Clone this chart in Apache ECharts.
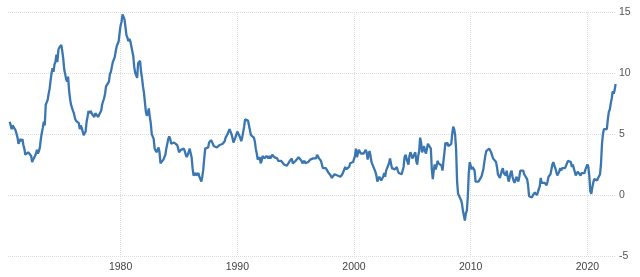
<!DOCTYPE html>
<html>
<head>
<meta charset="utf-8">
<script src="https://cdn.jsdelivr.net/npm/echarts@6/dist/echarts.min.js"></script>
<style>html,body{margin:0;padding:0;background:#fff;}#c{width:640px;height:277px;}</style>
</head>
<body>
<div id="c"></div>
<script>
// Monthly inflation rate (%), starting July 1970
const startYear = 1970;
const startMonth = 6; // 0-based (July)
const cpi1970s = [
  6.0, 6.0, 5.4, 5.7, 5.6, 5.6,
  5.3, 5.0, 4.7, 4.2, 4.4, 4.6, 4.4, 4.6, 4.1, 3.8, 3.3, 3.3,
  3.3, 3.5, 3.5, 3.5, 3.2, 2.7, 2.9, 2.9, 3.2, 3.4, 3.7, 3.4,
  3.6, 3.9, 4.6, 5.1, 5.5, 6.0, 5.7, 7.4, 7.4, 7.8, 8.3, 8.7,
  9.4, 10.0, 10.4, 10.1, 10.7, 10.9, 11.5, 10.9, 11.9, 12.1, 12.2, 12.3,
  11.8, 11.2, 10.3, 10.2, 9.5, 9.3, 9.7, 8.6, 7.9, 7.4, 7.4, 6.9,
  6.7, 6.3, 6.1, 6.0, 6.2, 5.9, 5.4, 5.7, 5.5, 5.5, 4.9, 4.9,
  5.2, 6.0, 6.4, 6.9, 6.7, 6.9, 6.8, 6.6, 6.6, 6.4, 6.7, 6.7,
  6.8, 6.4, 6.6, 6.5, 6.9, 7.4, 7.7, 7.9, 8.3, 8.9, 8.9, 9.0,
  9.3, 9.9, 10.1, 10.5, 10.9, 10.9, 11.3, 11.8, 12.2, 12.1, 12.6, 13.3
];
const cpi1980s = [
  13.9, 14.2, 14.8, 14.7, 14.4, 14.4, 13.1, 12.9, 12.6, 12.8, 12.6, 12.5,
  11.8, 11.4, 10.5, 10.0, 9.8, 9.6, 10.8, 10.8, 11.0, 10.1, 9.6, 8.9,
  8.4, 7.6, 6.8, 6.5, 6.7, 7.1, 6.4, 5.9, 5.0, 5.1, 4.6, 3.8,
  3.7, 3.5, 3.6, 3.9, 3.5, 2.6, 2.5, 2.6, 2.9, 2.9, 3.3, 3.8,
  4.2, 4.6, 4.8, 4.6, 4.2, 4.2, 4.2, 4.3, 4.3, 4.3, 4.1, 3.9,
  3.5, 3.5, 3.7, 3.7, 3.8, 3.8, 3.6, 3.3, 3.1, 3.2, 3.5, 3.8,
  3.9, 3.1, 2.2, 1.6, 1.5, 1.8, 1.6, 1.6, 1.8, 1.5, 1.3, 1.1,
  1.5, 2.1, 3.0, 3.8, 3.9, 3.7, 3.9, 4.3, 4.4, 4.5, 4.5, 4.4,
  4.0, 3.9, 3.9, 3.9, 3.9, 4.0, 4.1, 4.0, 4.2, 4.2, 4.2, 4.4,
  4.7, 4.8, 5.0, 5.1, 5.4, 5.2, 5.0, 4.7, 4.3, 4.5, 4.7, 4.6
];
const cpi1990s = [
  5.2, 5.3, 5.2, 4.7, 4.4, 4.7, 4.8, 5.6, 6.2, 6.3, 6.3, 6.1,
  5.7, 5.3, 4.9, 4.9, 5.0, 4.7, 4.4, 3.8, 3.4, 2.9, 3.0, 3.1,
  2.6, 2.8, 3.2, 3.2, 3.0, 3.1, 3.2, 3.1, 3.0, 3.2, 3.0, 2.9,
  3.3, 3.2, 3.1, 3.2, 3.2, 3.0, 2.8, 2.8, 2.7, 2.8, 2.7, 2.7,
  2.5, 2.5, 2.5, 2.4, 2.3, 2.5, 2.8, 2.9, 3.0, 2.6, 2.7, 2.7,
  2.8, 2.9, 2.9, 3.1, 3.2, 3.0, 2.8, 2.6, 2.5, 2.8, 2.6, 2.5,
  2.7, 2.7, 2.8, 2.9, 2.9, 2.8, 3.0, 2.9, 3.0, 3.0, 3.3, 3.3,
  3.0, 3.0, 2.8, 2.5, 2.2, 2.3, 2.2, 2.2, 2.2, 2.1, 1.8, 1.7,
  1.6, 1.4, 1.4, 1.4, 1.7, 1.7, 1.7, 1.6, 1.5, 1.5, 1.5, 1.6,
  1.7, 1.6, 1.7, 2.3, 2.1, 2.0, 2.1, 2.3, 2.6, 2.6, 2.6, 2.7
];
const cpi2000s = [
  2.7, 3.2, 3.8, 3.1, 3.2, 3.7, 3.7, 3.4, 3.5, 3.4, 3.4, 3.4,
  3.7, 3.5, 2.9, 3.3, 3.6, 3.2, 2.7, 2.7, 2.6, 2.1, 1.9, 1.6,
  1.1, 1.1, 1.5, 1.6, 1.2, 1.1, 1.5, 1.8, 1.5, 2.0, 2.2, 2.4,
  2.6, 3.0, 3.0, 2.2, 2.1, 2.1, 2.1, 2.2, 2.3, 2.0, 1.8, 1.9,
  1.9, 1.7, 1.7, 2.3, 3.1, 3.3, 3.0, 2.7, 2.5, 3.2, 3.5, 3.3,
  3.0, 3.0, 3.1, 3.5, 2.8, 2.5, 3.2, 3.6, 4.7, 4.3, 3.5, 3.4,
  4.0, 3.6, 3.4, 3.5, 4.2, 4.3, 4.1, 3.8, 2.1, 1.3, 2.0, 2.5,
  2.1, 2.4, 2.8, 2.6, 2.7, 2.7, 2.4, 2.0, 2.8, 3.5, 4.3, 4.1,
  4.3, 4.0, 4.0, 3.9, 4.2, 5.0, 5.6, 5.4, 4.9, 3.7, 1.1, 0.1,
  0.0, 0.2, -0.4, -0.7, -1.3, -1.4, -2.1, -1.5, -1.3, -0.2, 1.8, 2.7
];
const cpi2010s = [
  2.6, 2.1, 2.3, 2.2, 2.0, 1.1, 1.2, 1.1, 1.1, 1.2, 1.1, 1.5,
  1.6, 2.1, 2.7, 3.2, 3.6, 3.6, 3.6, 3.8, 3.9, 3.5, 3.4, 3.0,
  2.9, 2.9, 2.7, 2.3, 1.7, 1.7, 1.4, 1.7, 2.0, 2.2, 1.8, 1.7,
  1.6, 2.0, 1.5, 1.1, 1.4, 1.8, 2.0, 1.5, 1.2, 1.0, 1.2, 1.5,
  1.6, 1.1, 1.5, 2.0, 2.1, 2.1, 2.0, 1.7, 1.7, 1.7, 1.3, 0.8,
  -0.1, 0.0, -0.1, -0.2, 0.0, 0.1, 0.2, 0.2, 0.0, 0.2, 0.5, 0.7,
  1.4, 1.0, 0.9, 1.1, 1.0, 1.0, 0.8, 1.1, 1.5, 1.6, 1.7, 2.1,
  2.5, 2.7, 2.4, 2.2, 1.9, 1.6, 1.7, 1.9, 2.2, 2.0, 2.2, 2.1,
  2.1, 2.2, 2.4, 2.5, 2.8, 2.9, 2.9, 2.7, 2.3, 2.5, 2.2, 1.9,
  1.6, 1.5, 1.9, 2.0, 1.8, 1.6, 1.8, 1.7, 1.7, 1.8, 2.1, 2.3
];
const cpi2020s = [
  2.5, 2.3, 1.5, 0.3, 0.1, 0.6, 1.0, 1.3, 1.4, 1.2, 1.2, 1.4,
  1.4, 1.7, 2.6, 4.2, 5.0, 5.4, 5.4, 5.3, 5.4, 6.2, 6.8, 7.0,
  7.5, 7.9, 8.5, 8.3, 8.6, 9.1
];
const decadeTicks = [1980, 1990, 2000, 2010, 2020];
const yTicks = [-5, 0, 5, 10, 15];

const values = [].concat(cpi1970s, cpi1980s, cpi1990s, cpi2000s, cpi2010s, cpi2020s);
const seriesData = values.map((v, i) => [startYear + (startMonth + i) / 12, v]);

const chart = echarts.init(document.getElementById('c'), null, {renderer: 'canvas'});
chart.setOption({
  animation: false,
  backgroundColor: '#ffffff',
  grid: {left: 8, right: 24, top: 12, bottom: 21, containLabel: false},
  xAxis: {
    type: 'value',
    min: 1970.35,
    max: 2022.45,
    axisLine: {show: false},
    axisTick: {show: false, customValues: decadeTicks},
    axisLabel: {
      customValues: decadeTicks,
      color: '#444',
      fontSize: 10.5,
      fontFamily: 'Liberation Sans, Arial, sans-serif',
      margin: 6,
      formatter: v => String(v)
    },
    splitLine: {show: true, lineStyle: {color: '#dcdcdc', type: 'dotted', width: 1}}
  },
  yAxis: {
    type: 'value',
    position: 'right',
    min: yTicks[0],
    max: yTicks[yTicks.length - 1],
    interval: 5,
    axisLine: {show: false},
    axisTick: {show: false},
    axisLabel: {
      color: '#555',
      fontSize: 10.5,
      fontFamily: 'Liberation Sans, Arial, sans-serif',
      margin: 3,
      align: 'left'
    },
    splitLine: {show: true, lineStyle: {color: '#dcdcdc', type: 'dotted', width: 1}}
  },
  series: [{
    type: 'line',
    data: seriesData,
    showSymbol: false,
    symbol: 'none',
    clip: false,
    lineStyle: {color: '#3a76b0', width: 2.3},
    itemStyle: {color: '#3a76b0'}
  }]
});
</script>
</body>
</html>
